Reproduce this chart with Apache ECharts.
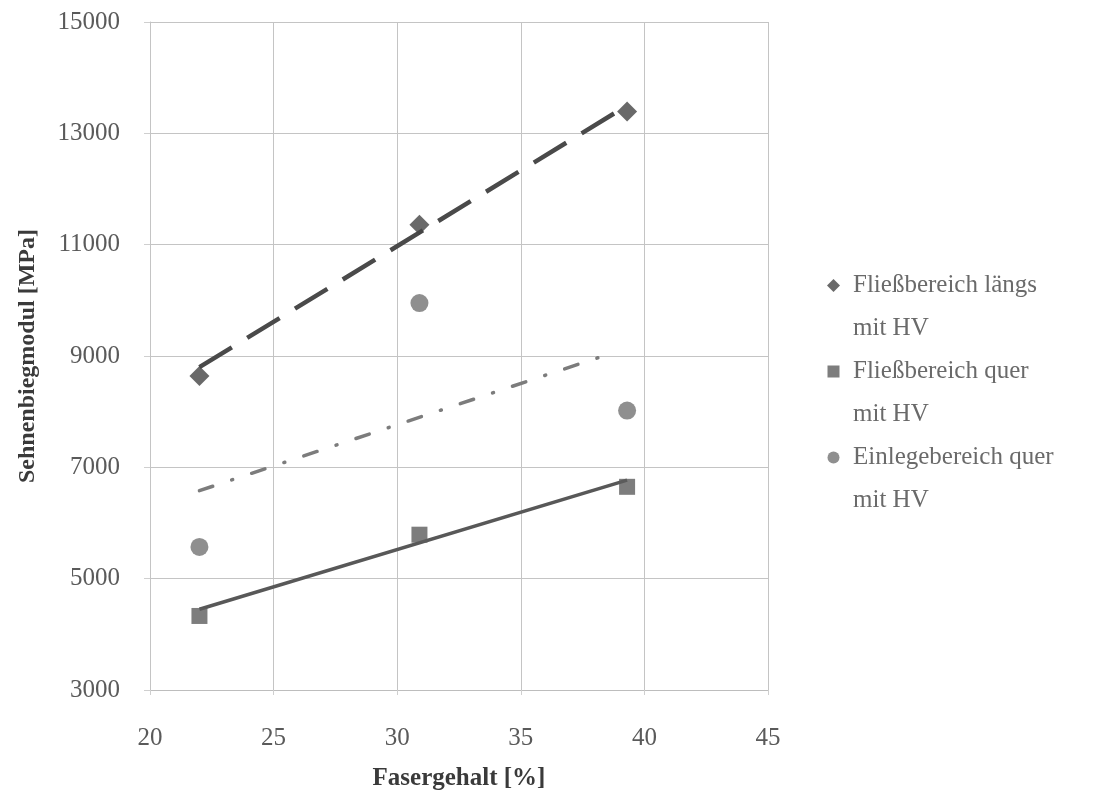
<!DOCTYPE html>
<html>
<head>
<meta charset="utf-8">
<script src="https://cdn.jsdelivr.net/npm/echarts@6/dist/echarts.min.js"></script>
<style>
  html, body { margin: 0; padding: 0; background: #fff; }
  #chart { width: 1097px; height: 796px; }
</style>
</head>
<body>
<div id="chart"></div>
<script>
// Fasergehalt [%] of the three specimen groups
var faserX = [22.0, 30.9, 39.3]
// measured values [MPa]
var laengsHV = [8640, 11360, 13390]
var querHV = [4330, 5790, 6650]
var einlegeHV = [5570, 9950, 8020]
// trend lines, endpoints
var trendLaengsX = [22.0, 39.3]
var trendLaengsY = [8800, 13500]
var trendQuerX = [22.0, 39.3]
var trendQuerY = [4450, 6770]
var trendEinlegeX = [22.0, 38.6]
var trendEinlegeY = [6580, 9040]

var seriesNames = ['Fließbereich längs\nmit HV', 'Fließbereich quer\nmit HV', 'Einlegebereich quer\nmit HV']

function pairs(xs, ys) {
  return xs.map(function (x, i) { return [x, ys[i]] })
}

// legend icons sit on the first text line: shape in the top part of a 21x86 box
var boxCorners = ' M0,0 M21,86'
var iconDiamond = 'path://M6.5,15 L13,21.5 L6.5,28 L0,21.5 Z' + boxCorners
var iconSquare = 'path://M0.5,15.5 L12.5,15.5 L12.5,27.5 L0.5,27.5 Z' + boxCorners
var iconCircle = 'path://M0.5,21.5 A6,6 0 1 1 12.5,21.5 A6,6 0 1 1 0.5,21.5 Z' + boxCorners

var font = 'Liberation Serif'
var chart = echarts.init(document.getElementById('chart'))
chart.setOption({
  animation: false,
  backgroundColor: '#fff',
  grid: {
    left: 150,
    right: 329,
    top: 22,
    bottom: 106,
    containLabel: false,
    outerBoundsMode: 'none'
  },
  legend: {
    data: [
      { name: seriesNames[0], icon: iconDiamond },
      { name: seriesNames[1], icon: iconSquare },
      { name: seriesNames[2], icon: iconCircle }
    ],
    orient: 'vertical',
    left: 827,
    top: 264,
    padding: 0,
    itemWidth: 21,
    itemHeight: 86,
    itemGap: 0,
    textStyle: {
      fontFamily: font,
      fontSize: 25,
      color: '#6a6a6a',
      lineHeight: 43
    }
  },
  xAxis: {
    type: 'value',
    min: 20,
    max: 45,
    interval: 5,
    name: 'Fasergehalt [%]',
    nameLocation: 'middle',
    nameGap: 76,
    nameTextStyle: { fontFamily: font, fontSize: 25, fontWeight: 'bold', color: '#3a3a3a' },
    axisLine: { show: true, lineStyle: { color: '#bdbdbd', width: 1 } },
    axisTick: { show: true, length: 5, lineStyle: { color: '#cfcfcf' } },
    axisLabel: { fontFamily: font, fontSize: 25, color: '#5a5a5a', margin: 36 },
    splitLine: { show: true, lineStyle: { color: '#c4c4c4', width: 1 } }
  },
  yAxis: {
    type: 'value',
    min: 3000,
    max: 15000,
    interval: 2000,
    name: 'Sehnenbiegmodul [MPa]',
    nameLocation: 'middle',
    nameGap: 110,
    nameTextStyle: { fontFamily: font, fontSize: 24, fontWeight: 'bold', color: '#3a3a3a' },
    axisLine: { show: true, lineStyle: { color: '#c4c4c4', width: 1 } },
    axisTick: { show: true, length: 6, lineStyle: { color: '#cfcfcf' } },
    axisLabel: {
      fontFamily: font,
      fontSize: 25,
      color: '#5a5a5a',
      margin: 30,
      formatter: function (v) { return String(v) }
    },
    splitLine: { show: true, lineStyle: { color: '#c4c4c4', width: 1 } }
  },
  series: [
    {
      name: 'trend-laengs',
      type: 'line',
      data: pairs(trendLaengsX, trendLaengsY),
      showSymbol: false,
      lineStyle: { color: '#4a4a4a', width: 4.5, type: [38, 18] },
      z: 2
    },
    {
      name: 'trend-quer',
      type: 'line',
      data: pairs(trendQuerX, trendQuerY),
      showSymbol: false,
      lineStyle: { color: '#585858', width: 3.5 },
      z: 2
    },
    {
      name: 'trend-einlege',
      type: 'line',
      data: pairs(trendEinlegeX, trendEinlegeY),
      showSymbol: false,
      lineStyle: { color: '#7c7c7c', width: 3.5, type: [14, 20, 1, 20], cap: 'round' },
      z: 2
    },
    {
      name: seriesNames[0],
      type: 'scatter',
      data: pairs(faserX, laengsHV),
      symbol: 'diamond',
      symbolSize: 20,
      itemStyle: { color: '#444444' },
      z: 3
    },
    {
      name: seriesNames[1],
      type: 'scatter',
      data: pairs(faserX, querHV),
      symbol: 'rect',
      symbolSize: 16,
      itemStyle: { color: '#5c5c5c' },
      z: 3
    },
    {
      name: seriesNames[2],
      type: 'scatter',
      data: pairs(faserX, einlegeHV),
      symbol: 'circle',
      symbolSize: 18,
      itemStyle: { color: '#737373' },
      z: 3
    }
  ]
})
</script>
</body>
</html>
